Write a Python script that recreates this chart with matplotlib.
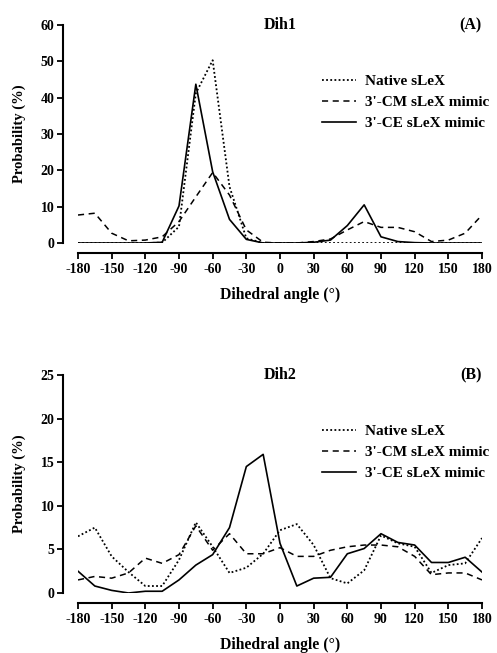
import matplotlib
matplotlib.use("Agg")
import matplotlib.pyplot as plt
import numpy as np

plt.rcParams['font.family'] = ['Liberation Serif', 'DejaVu Serif']
plt.rcParams['font.weight'] = 'bold'
plt.rcParams['axes.unicode_minus'] = False

angles = list(range(-180, 181, 15))
series_names = ["Native sLeX", "3'-CM sLeX mimic", "3'-CE sLeX mimic"]

# Dih1 (panel A)
dih1_native = [0, 0, 0, 0, 0, 0.1, 4.5, 41.2, 50.3, 15.5, 1.3, 0, 0, 0, 0, 0, 0, 0, 0, 0, 0, 0, 0, 0, 0]
dih1_cm = [7.7, 8.2, 2.7, 0.6, 0.8, 1.7, 5.9, 12.7, 19.4, 13.2, 3.6, 0.2, 0, 0, 0.4, 1.1, 3.6, 5.9, 4.3, 4.3, 3.1, 0.4, 0.8, 2.7, 7.7]
dih1_ce = [0, 0, 0, 0, 0, 0.2, 10.2, 43.7, 19.6, 6.5, 1.0, 0, 0, 0, 0.2, 0.8, 4.8, 10.5, 1.7, 0.4, 0.1, 0, 0, 0, 0]

# Dih2 (panel B)
dih2_native = [6.5, 7.5, 4.2, 2.4, 0.8, 0.8, 3.8, 8.1, 5.3, 2.3, 2.9, 4.5, 7.2, 7.9, 5.5, 1.7, 1.1, 2.6, 6.6, 5.7, 5.3, 2.3, 3.2, 3.4, 6.3]
dih2_cm = [1.5, 1.9, 1.7, 2.3, 4.0, 3.4, 4.4, 7.7, 4.9, 6.8, 4.5, 4.5, 5.2, 4.2, 4.2, 4.9, 5.3, 5.5, 5.5, 5.3, 4.2, 2.1, 2.3, 2.3, 1.5]
dih2_ce = [2.5, 0.8, 0.3, 0.0, 0.2, 0.2, 1.5, 3.2, 4.4, 7.5, 14.5, 15.9, 5.7, 0.8, 1.7, 1.8, 4.5, 5.1, 6.8, 5.8, 5.5, 3.5, 3.5, 4.1, 2.4]

xticks = list(range(-180, 181, 30))

W, H = 497, 653
fig = plt.figure(figsize=(W / 100, H / 100), dpi=100)

def make_panel(rect, native, cm, ce, ymax, ystep, title, tag):
	ax = fig.add_axes(rect)
	ax.plot(angles, native, color='black', linestyle=(0, (1, 1.3)), linewidth=1.3, label=series_names[0])
	ax.plot(angles, cm, color='black', linestyle=(0, (4, 3)), linewidth=1.1, label=series_names[1])
	ax.plot(angles, ce, color='black', linestyle='-', linewidth=1.2, label=series_names[2])
	ax.set_xlim(-180, 180)
	ax.set_ylim(0, ymax)
	ax.set_xticks(xticks)
	ax.set_yticks(np.arange(0, ymax + 0.1, ystep))
	for s in ['top', 'right']:
		ax.spines[s].set_visible(False)
	ax.spines['left'].set_position(('outward', 10.8))
	ax.spines['bottom'].set_position(('outward', 7.2))
	ax.spines['left'].set_linewidth(1.5)
	ax.spines['bottom'].set_linewidth(1.5)
	ax.spines['left'].set_bounds(0, ymax)
	ax.spines['bottom'].set_bounds(-180, 180)
	ax.tick_params(axis='both', direction='out', length=4, width=1.3, labelsize=10, pad=2)
	ax.tick_params(axis='x', pad=3)
	for lab in ax.get_xticklabels() + ax.get_yticklabels():
		lab.set_fontweight('bold')
	ax.set_xlabel("Dihedral angle (°)", fontsize=11.3, fontweight='bold', labelpad=8)
	ax.set_ylabel("Probability (%)", fontsize=10.5, fontweight='bold', labelpad=11)
	ax.text(0.5, 1.0, title, transform=ax.transAxes, ha='center', va='center', fontsize=11.5, fontweight='bold')
	ax.text(1.0, 1.0, tag, transform=ax.transAxes, ha='right', va='center', fontsize=11.5, fontweight='bold')
	leg = ax.legend(loc='upper left', bbox_to_anchor=(0.59, 0.80), frameon=False, fontsize=11,
		handlelength=2.2, handletextpad=0.6, labelspacing=0.48, borderaxespad=0)
	for t in leg.get_texts():
		t.set_fontweight('bold')
	return ax

make_panel([78 / W, (H - 243) / H, 404 / W, 218 / H], dih1_native, dih1_cm, dih1_ce, 60, 10, "Dih1", "(A)")
make_panel([78 / W, (H - 593) / H, 404 / W, 218 / H], dih2_native, dih2_cm, dih2_ce, 25, 5, "Dih2", "(B)")

fig.savefig("out.png", dpi=100)
